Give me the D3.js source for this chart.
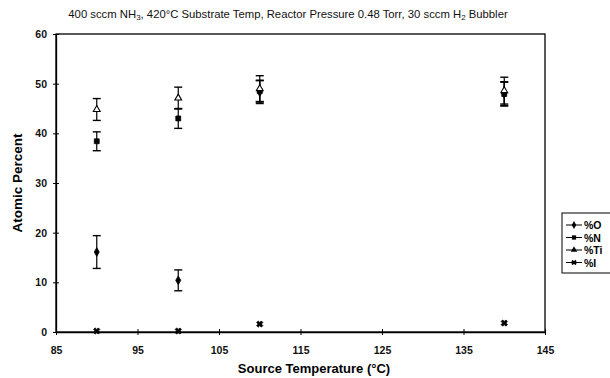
<!DOCTYPE html>
<html>
<head>
<meta charset="utf-8">
<script src="https://cdn.jsdelivr.net/npm/d3@7"></script>
<style>
  body { margin: 0; background: #fff; }
  svg { font-family: "Liberation Sans", Arial, sans-serif; }
</style>
</head>
<body>
<svg id="chart" width="610" height="378"></svg>
<script>
// source temperatures (°C)
const temps = [90, 100, 110, 140];

// atomic percent values + error half-widths
const oVals = [16.1, 10.4, 48.3, 48.0];
const oErr  = [3.3, 2.1, 2.3, 2.4];
const nVals = [38.4, 43.0, 48.5, 47.9];
const nErr  = [1.9, 2.0, 2.2, 2.4];
const tiVals = [44.8, 47.1, 49.0, 48.6];
const tiErr  = [2.2, 2.2, 2.6, 2.7];
const iVals = [0.2, 0.2, 1.6, 1.8];

const xTicks = [85, 95, 105, 115, 125, 135, 145];
const yTicks = [0, 10, 20, 30, 40, 50, 60];

const margin = { top: 34, right: 65, bottom: 46, left: 56 };
const width = 610, height = 378;

const svg = d3.select("#chart");

const x = d3.scaleLinear().domain([85, 145]).range([margin.left, width - margin.right]);
const y = d3.scaleLinear().domain([0, 60]).range([height - margin.bottom, margin.top]);

// frame
svg.append("rect")
  .attr("x", x(85)).attr("y", y(60))
  .attr("width", x(145) - x(85)).attr("height", y(0) - y(60))
  .attr("fill", "none").attr("stroke", "#000").attr("stroke-width", 1.3);

// axes
const xAxis = d3.axisBottom(x).tickValues(xTicks).tickSize(3).tickSizeOuter(0);
const gx = svg.append("g")
  .attr("transform", "translate(0," + y(0) + ")")
  .call(xAxis);
gx.selectAll(".tick line").attr("y1", -3).attr("y2", 3);
gx.selectAll("text").attr("dy", "1.5em");

const yAxis = d3.axisLeft(y).tickValues(yTicks).tickSize(3).tickSizeOuter(0);
const gy = svg.append("g")
  .attr("transform", "translate(" + x(85) + ",0)")
  .call(yAxis);
gy.selectAll(".tick line").attr("x1", -3).attr("x2", 3);
gy.selectAll("text").attr("x", -9);

svg.selectAll(".domain").attr("stroke", "#000").attr("stroke-width", 1.3);
svg.selectAll(".tick text")
  .attr("font-size", 10.5).attr("font-weight", "bold").attr("fill", "#111");

// titles
const title = svg.append("text")
  .attr("x", 288).attr("y", 18)
  .attr("text-anchor", "middle").attr("font-size", 11.3).attr("fill", "#111");
title.append("tspan").text("400 sccm NH");
title.append("tspan").attr("font-size", 8).attr("dy", 1.5).text("3");
title.append("tspan").attr("dy", -1.5).text(", 420°C Substrate Temp, Reactor Pressure 0.48 Torr, 30 sccm H");
title.append("tspan").attr("font-size", 8).attr("dy", 1.5).text("2");
title.append("tspan").attr("dy", -1.5).text(" Bubbler");

svg.append("text")
  .attr("transform", "translate(22," + (y(30)) + ") rotate(-90)")
  .attr("text-anchor", "middle")
  .attr("font-size", 13.5).attr("font-weight", "bold")
  .text("Atomic Percent");

svg.append("text")
  .attr("x", 314).attr("y", 373)
  .attr("text-anchor", "middle")
  .attr("font-size", 13).attr("font-weight", "bold")
  .text("Source Temperature (°C)");

// markers
const symType = { O: d3.symbolDiamond, N: d3.symbolSquare, Ti: d3.symbolTriangle, I: d3.symbolCross };
const symSize = { O: 22, N: 24, Ti: 20, I: 24 };

const series = [
  { key: "O", label: "%O", vals: oVals, err: oErr, fill: "#000" },
  { key: "N", label: "%N", vals: nVals, err: nErr, fill: "#000" },
  { key: "Ti", label: "%Ti", vals: tiVals, err: tiErr, fill: "#fff" },
  { key: "I", label: "%I", vals: iVals, err: null, fill: "#000" }
];

series.forEach(s => {
  const pts = temps.map((t, i) => ({ t: t, v: s.vals[i], e: s.err ? s.err[i] : 0 }));
  const g = svg.append("g");
  if (s.err) {
    const eb = g.selectAll(".eb").data(pts).join("g");
    eb.append("line")
      .attr("x1", d => x(d.t)).attr("x2", d => x(d.t))
      .attr("y1", d => y(d.v - d.e)).attr("y2", d => y(d.v + d.e))
      .attr("stroke", "#000").attr("stroke-width", 1.2);
    [-1, 1].forEach(sg => {
      eb.append("line")
        .attr("x1", d => x(d.t) - 4).attr("x2", d => x(d.t) + 4)
        .attr("y1", d => y(d.v + sg * d.e)).attr("y2", d => y(d.v + sg * d.e))
        .attr("stroke", "#000").attr("stroke-width", 1.4);
    });
  }
  g.selectAll("path").data(pts).join("path")
    .attr("d", d3.symbol().type(symType[s.key]).size(symSize[s.key]))
    .attr("transform", d => "translate(" + x(d.t) + "," + y(d.v) + ")" + (s.key === "I" ? " rotate(45)" : ""))
    .attr("fill", s.fill)
    .attr("stroke", "#000").attr("stroke-width", s.key === "Ti" ? 1.1 : 0.8);
});

// legend
const lg = svg.append("g").attr("transform", "translate(562,213)");
lg.append("rect").attr("x", 0).attr("y", 0).attr("width", 60).attr("height", 60)
  .attr("fill", "#fff").attr("stroke", "#000").attr("stroke-width", 1);
series.forEach((s, i) => {
  const ry = 12 + i * 12.5;
  lg.append("line").attr("x1", 4).attr("x2", 20).attr("y1", ry).attr("y2", ry)
    .attr("stroke", "#000").attr("stroke-width", 1);
  lg.append("path")
    .attr("d", d3.symbol().type(symType[s.key]).size(18))
    .attr("transform", "translate(12," + ry + ")" + (s.key === "I" ? " rotate(45)" : ""))
    .attr("fill", "#000");
  lg.append("text").attr("x", 22).attr("y", ry + 4)
    .attr("font-size", 10.5).attr("font-weight", "bold").text(s.label);
});
</script>
</body>
</html>
